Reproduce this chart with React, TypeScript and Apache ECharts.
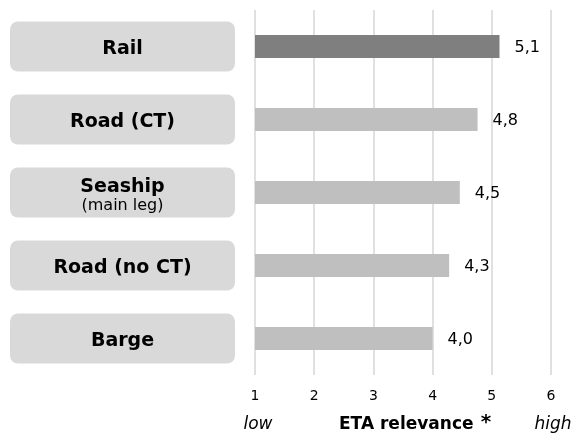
import React, { useEffect, useRef } from "react";
import * as echarts from "echarts";

const categories = ["Rail", "Road (CT)", "Seaship", "Road (no CT)", "Barge"];
const subLabels = ["", "", "(main leg)", "", ""];
const values = [5.13, 4.76, 4.46, 4.28, 4.0];
const highlighted = "Rail";
const axisMin = 1;
const axisMax = 6;
const axisTitle = "ETA relevance";
const lowLabel = "low";
const highLabel = "high";

const FONT = "DejaVu Sans";

export default function App() {
  const ref = useRef<HTMLDivElement>(null);
  useEffect(() => {
    if (!ref.current) return;
    const chart = echarts.init(ref.current, undefined, { renderer: "svg" });
    chart.setOption({
      animation: false,
      grid: { left: 255, right: 26, top: 10, bottom: 59, containLabel: false },
      xAxis: {
        type: "value",
        min: axisMin,
        max: axisMax,
        interval: 1,
        axisLine: { show: false },
        axisTick: { show: false },
        splitLine: { show: true, lineStyle: { color: "#d6d6d6", width: 1.5 } },
        axisLabel: { color: "#000", fontSize: 14, fontFamily: FONT, margin: 13 },
      },
      yAxis: {
        type: "category",
        data: categories,
        inverse: true,
        axisLine: { show: false },
        axisTick: { show: false },
        splitLine: { show: false },
        axisLabel: {
          margin: 20,
          backgroundColor: "#d9d9d9",
          borderRadius: 8,
          padding: [5, 0, 5, 0],
          formatter: (v: string, i: number) =>
            subLabels[i] ? `{s|${v}}\n{m|${subLabels[i]}}` : `{a|${v}}`,
          rich: {
            a: { width: 225, lineHeight: 40, align: "center", fontFamily: FONT, fontWeight: "bold", fontSize: 19, color: "#000" },
            s: { width: 225, lineHeight: 24, align: "center", fontFamily: FONT, fontWeight: "bold", fontSize: 19, color: "#000" },
            m: { width: 225, lineHeight: 16, align: "center", fontFamily: FONT, fontWeight: "normal", fontSize: 16, color: "#000" },
          },
        },
      },
      series: [
        {
          type: "bar",
          barWidth: 23,
          clip: true,
          data: values.map((v, i) => ({
            value: v,
            itemStyle: { color: categories[i] === highlighted ? "#7f7f7f" : "#bfbfbf" },
          })),
          label: {
            show: true,
            position: "right",
            distance: 15,
            color: "#000",
            fontSize: 16,
            fontFamily: FONT,
            formatter: (p: any) => Number(p.value).toFixed(1).replace(".", ","),
          },
        },
      ],
      graphic: [
        {
          type: "text",
          x: 258,
          y: 423,
          style: { text: lowLabel, font: `italic 17px "${FONT}"`, fill: "#000", textAlign: "center", textVerticalAlign: "middle" },
        },
        {
          type: "text",
          x: 553,
          y: 423,
          style: { text: highLabel, font: `italic 17px "${FONT}"`, fill: "#000", textAlign: "center", textVerticalAlign: "middle" },
        },
        {
          type: "text",
          x: 339,
          y: 423,
          style: { text: axisTitle, font: `bold 17px "${FONT}"`, fill: "#000", textAlign: "left", textVerticalAlign: "middle" },
        },
        {
          type: "text",
          x: 486,
          y: 421,
          style: { text: "*", font: `bold 20px "${FONT}"`, fill: "#000", textAlign: "center", textVerticalAlign: "middle" },
        },
      ],
    });
    return () => chart.dispose();
  }, []);
  return <div ref={ref} style={{ position: "fixed", left: 0, top: 0, width: 577, height: 434 }} />;
}
